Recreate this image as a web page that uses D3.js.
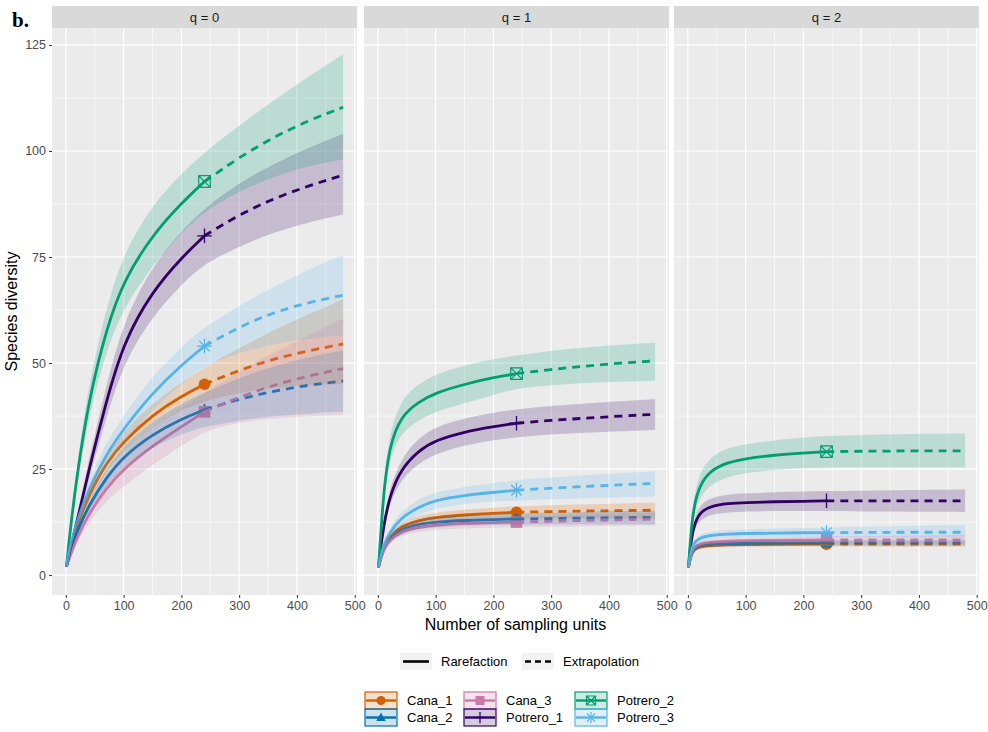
<!DOCTYPE html>
<html>
<head>
<meta charset="utf-8">
<script src="https://cdn.jsdelivr.net/npm/d3@7"></script>
<style>
body{margin:0;background:#fff}
svg{display:block;font-family:Arial,"Liberation Sans",sans-serif}
</style>
</head>
<body>
<svg id="chart" width="988" height="732"></svg>
<script>
// iNEXT style curves, 3 facets (q = 0, 1, 2)

const sites=["Cana_1","Cana_2","Cana_3","Potrero_1","Potrero_2","Potrero_3"];
const siteColors=["#D55E00","#0072B2","#CC79A7","#330066","#009E73","#56B4E9"];
const siteShapes=["circle","triangle","square","plus","squarecross","asterisk"];
const facetLabels=["q = 0","q = 1","q = 2"];
const sizes=[1,5,10,20,40,70,100,150,200,240,300,360,420,480];
const observedSize=240;
const xTicks=[0,100,200,300,400,500];
const yTicks=[0,25,50,75,100,125];

// q = 0
const meanQ0=[
  [2,4.5,7.5,12,19,26.5,31.5,37.8,42.2,45,48.3,51,52.9,54.5],
  [2,4,6.5,10.5,16.5,23,28,33.2,36.8,39,41.5,43.4,44.8,45.8],
  [2,3.5,5.5,9,14.5,20.5,25,30.5,35,38.5,42,44.8,47,48.7],
  [2,4.5,7.5,13,25,41,55,67,74.8,80,85,88.8,91.8,94.3],
  [2,7.5,13.3,24.3,41.5,58,69.5,80.2,87.7,92.8,98.5,103.3,107.2,110.3],
  [2,5,8,13,20.5,28.5,34.5,43,49.5,54,58.5,62,64.3,66]
];
const lowQ0=[
  [1.7,4,6.8,11,17.5,24.5,29.2,35,39,41,43,44.2,44.8,45],
  [1.7,3.5,5.8,9.5,15,21,25.5,30.2,33.2,35,36.5,37.5,38.1,38.5],
  [1.7,3,4.8,7.8,12.5,17.5,21,26,30.5,34,36,37,37.5,37.7],
  [1.7,4,6.8,11.7,22.6,37.2,50,61,68.5,73.5,77.5,80.8,83.2,85],
  [1.7,6.6,11.8,21.8,37.5,53,63,73,80.8,85.8,90.5,94,96.5,98],
  [1.7,4.5,7.2,11.8,18.5,25.8,31.3,39,45.2,49.5,52.5,54.5,55.8,56.5]
];
const highQ0=[
  [2.3,5,8.2,13,20.5,28.5,33.8,40.6,45.4,49,53.5,57.8,61.5,65],
  [2.3,4.5,7.2,11.5,18,25,30.5,36.2,40.4,43,46.5,49.3,51.4,53],
  [2.3,4,6.2,10.2,16.5,23.5,29,35,39.5,43,48,52.5,56.5,60.5],
  [2.3,5,8.2,14.3,27.4,44.8,60,73,81.1,86.5,92.5,97,100.8,104],
  [2.3,8.4,14.8,26.8,45.5,63,76,87.4,94.6,99.8,106,112,117.5,122.8],
  [2.3,5.5,8.8,14.2,22.5,31.2,37.7,47,53.8,58.5,63.5,68,72,75.5]
];

// q = 1
const meanQ1=[
  [1.8,4,6.5,9,11.5,12.9,13.6,14.2,14.6,14.8,15,15.1,15.2,15.3],
  [1.8,4,6.2,8.6,10.8,12,12.5,12.9,13.1,13.2,13.35,13.45,13.55,13.6],
  [1.8,3.8,6,8.3,10.3,11.3,11.8,12.2,12.4,12.5,12.7,12.9,13.05,13.2],
  [1.8,6.5,11.5,18.5,25,29.3,31.8,33.8,35,35.8,36.5,37,37.5,37.9],
  [1.8,9.5,19.5,30.5,37.5,40.8,43,45,46.6,47.5,48.5,49.3,50,50.5],
  [1.8,4.5,7,10,13.5,16,17.7,18.8,19.5,20,20.5,20.9,21.3,21.6]
];
const lowQ1=[
  [1.6,3.6,5.9,8.2,10.5,11.8,12.4,13,13.3,13.4,13.4,13.4,13.35,13.3],
  [1.6,3.6,5.6,7.8,9.8,10.9,11.3,11.7,11.8,11.9,11.95,12,12,12],
  [1.6,3.4,5.4,7.5,9.3,10.2,10.7,11,11.2,11.3,11.4,11.5,11.6,11.7],
  [1.6,5.8,10.3,16.7,22.5,26.3,28.6,30.6,31.8,32.5,33.2,33.6,33.9,34.2],
  [1.6,8.5,17.5,27.5,33.5,36.5,38.6,40.5,42.5,44,44.8,45.3,45.6,45.8],
  [1.6,4,6.3,9,12,14.2,15.8,16.8,17.3,17.6,17.9,18.1,18.3,18.5]
];
const highQ1=[
  [2,4.4,7.1,9.8,12.5,14,14.8,15.4,15.9,16.2,16.5,16.7,16.9,17.1],
  [2,4.4,6.8,9.4,11.8,13.1,13.7,14.1,14.4,14.5,14.7,14.9,15.1,15.2],
  [2,4.2,6.6,9.1,11.3,12.4,12.9,13.4,13.6,13.7,14,14.3,14.5,14.7],
  [2,7.2,12.7,20.3,27.5,32.3,35,37,38.3,39.1,39.9,40.5,41,41.5],
  [2,10.5,21.5,33.5,41.5,45,47.4,49.5,50.9,51.8,52.9,53.7,54.3,54.8],
  [2,5,7.7,11,15,17.8,19.6,20.8,21.7,22.4,23,23.6,24,24.4]
];

// q = 2
const meanQ2=[
  [1.8,4.5,6,6.7,7,7.1,7.2,7.25,7.3,7.3,7.3,7.3,7.3,7.3],
  [1.8,4.6,6.2,7,7.3,7.45,7.5,7.55,7.6,7.6,7.6,7.6,7.6,7.6],
  [1.8,4.8,6.5,7.4,7.8,8,8.1,8.2,8.25,8.3,8.3,8.3,8.3,8.3],
  [1.8,7.5,11.5,14.8,16.3,16.9,17.1,17.3,17.4,17.5,17.5,17.5,17.5,17.5],
  [1.8,9.5,16,21.2,24.8,26.6,27.5,28.3,28.8,29.1,29.2,29.25,29.3,29.3],
  [1.8,5.5,7.5,8.8,9.4,9.7,9.8,9.9,10,10,10.05,10.1,10.1,10.1]
];
const lowQ2=[
  [1.6,4.1,5.5,6.2,6.5,6.6,6.7,6.7,6.75,6.75,6.7,6.7,6.7,6.7],
  [1.6,4.2,5.7,6.4,6.7,6.85,6.9,6.95,7,7,7,7,7,7],
  [1.6,4.3,5.9,6.7,7.1,7.3,7.4,7.45,7.5,7.5,7.5,7.45,7.4,7.4],
  [1.6,6.7,10.2,13,14.3,14.8,15,15.1,15.1,15.1,15,15,14.9,14.9],
  [1.6,8.3,13.8,18.3,21.5,23.2,24.1,24.8,25.2,25.4,25.4,25.4,25.4,25.4],
  [1.6,5,6.8,8,8.6,8.8,8.9,8.9,8.9,8.9,8.85,8.85,8.8,8.8]
];
const highQ2=[
  [2,4.9,6.5,7.2,7.5,7.6,7.7,7.8,7.85,7.9,7.9,7.9,7.95,8],
  [2,5,6.7,7.6,7.9,8.05,8.1,8.2,8.2,8.25,8.3,8.3,8.35,8.4],
  [2,5.3,7.1,8.1,8.5,8.7,8.8,8.95,9,9.1,9.2,9.3,9.4,9.5],
  [2,8.3,12.8,16.6,18.3,19,19.3,19.5,19.7,19.8,19.9,20,20.1,20.2],
  [2,10.7,18.2,24.1,28.1,30,30.9,31.8,32.4,32.8,33,33.2,33.3,33.4],
  [2,6,8.2,9.6,10.3,10.6,10.8,11,11.1,11.2,11.4,11.5,11.7,11.8]
];

const meanAll=[meanQ0,meanQ1,meanQ2];
const lowAll=[lowQ0,lowQ1,lowQ2];
const highAll=[highQ0,highQ1,highQ2];

const svg=d3.select("#chart");
const panelLeft=[52,364,674];
const panelW=305;
const panelTop=28, panelBottom=595;
const stripTop=6;
const font="Arial,'Liberation Sans',sans-serif";

const y=d3.scaleLinear().domain([-4.7,129]).range([panelBottom,panelTop]);

function drawShape(g,shape,color,cx,cy,s){
  const p=g.append("g").attr("transform","translate("+cx+","+cy+")");
  if(shape==="circle"){
    p.append("circle").attr("r",s).attr("fill",color);
  }else if(shape==="triangle"){
    p.append("path").attr("d","M0,"+(-s*1.1)+"L"+(s*1.05)+","+(s*0.75)+"L"+(-s*1.05)+","+(s*0.75)+"Z").attr("fill",color);
  }else if(shape==="square"){
    p.append("rect").attr("x",-s).attr("y",-s).attr("width",2*s).attr("height",2*s).attr("fill",color);
  }else if(shape==="plus"){
    const t=s*1.25;
    p.append("path").attr("d","M"+(-t)+",0H"+t+"M0,"+(-t)+"V"+t).attr("stroke",color).attr("stroke-width",1.3).attr("fill","none");
  }else if(shape==="squarecross"){
    p.append("path").attr("d","M"+(-s)+","+(-s)+"H"+s+"V"+s+"H"+(-s)+"Z M"+(-s)+","+(-s)+"L"+s+","+s+"M"+s+","+(-s)+"L"+(-s)+","+s)
      .attr("stroke",color).attr("stroke-width",1.2).attr("fill","none");
  }else if(shape==="asterisk"){
    const t=s*1.25, d=s*0.9;
    p.append("path").attr("d","M"+(-t)+",0H"+t+"M0,"+(-t)+"V"+t+"M"+(-d)+","+(-d)+"L"+d+","+d+"M"+d+","+(-d)+"L"+(-d)+","+d)
      .attr("stroke",color).attr("stroke-width",1.2).attr("fill","none");
  }
}

facetLabels.forEach((lab,fi)=>{
  const x0=panelLeft[fi];
  const x=d3.scaleLinear().domain([-24,504]).range([x0,x0+panelW]);
  const g=svg.append("g");

  // strip
  g.append("rect").attr("x",x0).attr("y",stripTop).attr("width",panelW).attr("height",panelTop-stripTop).attr("fill","#D9D9D9");
  g.append("text").attr("x",x0+panelW/2).attr("y",(stripTop+panelTop)/2+4.5).attr("text-anchor","middle")
    .attr("font-size",13).attr("fill","#1A1A1A").text(lab);

  // panel background + grid
  g.append("rect").attr("x",x0).attr("y",panelTop).attr("width",panelW).attr("height",panelBottom-panelTop).attr("fill","#EBEBEB");
  const xMinor=[50,150,250,350,450];
  const yMinor=[12.5,37.5,62.5,87.5,112.5];
  g.selectAll(".xm").data(xMinor).enter().append("line")
    .attr("x1",d=>x(d)).attr("x2",d=>x(d)).attr("y1",panelTop).attr("y2",panelBottom)
    .attr("stroke","#fff").attr("stroke-width",0.6);
  g.selectAll(".ym").data(yMinor).enter().append("line")
    .attr("x1",x0).attr("x2",x0+panelW).attr("y1",d=>y(d)).attr("y2",d=>y(d))
    .attr("stroke","#fff").attr("stroke-width",0.6);
  g.selectAll(".xg").data(xTicks).enter().append("line")
    .attr("x1",d=>x(d)).attr("x2",d=>x(d)).attr("y1",panelTop).attr("y2",panelBottom)
    .attr("stroke","#fff").attr("stroke-width",1.2);
  g.selectAll(".yg").data(yTicks).enter().append("line")
    .attr("x1",x0).attr("x2",x0+panelW).attr("y1",d=>y(d)).attr("y2",d=>y(d))
    .attr("stroke","#fff").attr("stroke-width",1.2);

  // x axis
  const xa=g.append("g").attr("transform","translate(0,"+panelBottom+")")
    .call(d3.axisBottom(x).tickValues(xTicks).tickSize(3).tickPadding(3).tickFormat(d3.format("d")));
  xa.select(".domain").remove();
  xa.selectAll("line").attr("stroke","#333");
  xa.selectAll("text").attr("font-size",12.5).attr("fill","#4D4D4D").attr("font-family",font);

  if(fi===0){
    const ya=g.append("g").attr("transform","translate("+x0+",0)")
      .call(d3.axisLeft(y).tickValues(yTicks).tickSize(3).tickPadding(3));
    ya.select(".domain").remove();
    ya.selectAll("line").attr("stroke","#333");
    ya.selectAll("text").attr("font-size",12.5).attr("fill","#4D4D4D").attr("font-family",font);
  }

  const means=meanAll[fi], lows=lowAll[fi], highs=highAll[fi];
  const obsIdx=sizes.indexOf(observedSize);

  // points
  sites.forEach((s,si)=>{
    drawShape(g,siteShapes[si],siteColors[si],x(observedSize),y(means[si][obsIdx]),5.8);
  });

  // lines
  const line=d3.line().x(d=>x(d[0])).y(d=>y(d[1])).curve(d3.curveBasis);
  sites.forEach((s,si)=>{
    const pts=sizes.map((v,i)=>[v,means[si][i]]);
    g.append("path").attr("d",line(pts.filter(p=>p[0]<=observedSize)))
      .attr("fill","none").attr("stroke",siteColors[si]).attr("stroke-width",2.8);
    g.append("path").attr("d",line(pts.filter(p=>p[0]>=observedSize)))
      .attr("fill","none").attr("stroke",siteColors[si]).attr("stroke-width",2.8).attr("stroke-dasharray","8,6");
  });

  // ribbons on top (alpha)
  const area=d3.area().x(d=>x(d[0])).y0(d=>y(d[1])).y1(d=>y(d[2])).curve(d3.curveBasis);
  sites.forEach((s,si)=>{
    const pts=sizes.map((v,i)=>[v,lows[si][i],highs[si][i]]);
    g.append("path").attr("d",area(pts)).attr("fill",siteColors[si]).attr("fill-opacity",0.2);
  });
});

// axis titles
svg.append("text").attr("x",(panelLeft[0]+panelLeft[2]+panelW)/2).attr("y",630).attr("text-anchor","middle")
  .attr("font-size",16).attr("fill","#000").text("Number of sampling units");
svg.append("text").attr("transform","translate(17,"+((panelTop+panelBottom)/2)+") rotate(-90)").attr("text-anchor","middle")
  .attr("font-size",16).attr("fill","#000").text("Species diversity");

// panel tag
svg.append("text").attr("x",12).attr("y",27).attr("font-family","'Liberation Serif','DejaVu Serif',serif")
  .attr("font-weight","bold").attr("font-size",21).attr("fill","#000").text("b.");

// legend: line type
const lineLegend=[{label:"Rarefaction",dash:null,x:400},{label:"Extrapolation",dash:"6,4",x:522}];
lineLegend.forEach(d=>{
  svg.append("rect").attr("x",d.x).attr("y",653).attr("width",32).attr("height",17).attr("fill","#F2F2F2");
  svg.append("line").attr("x1",d.x+3).attr("x2",d.x+29).attr("y1",661.5).attr("y2",661.5)
    .attr("stroke","#000").attr("stroke-width",2.6).attr("stroke-dasharray",d.dash);
  svg.append("text").attr("x",d.x+41).attr("y",666).attr("font-size",13).attr("fill","#000").text(d.label);
});

// legend: sites
const legCols=[365,464,575];
const legRows=[692,709];
sites.forEach((s,si)=>{
  const cx=legCols[Math.floor(si/2)], cy=legRows[si%2];
  const c=siteColors[si];
  svg.append("rect").attr("x",cx).attr("y",cy).attr("width",32).attr("height",17)
    .attr("fill",c).attr("fill-opacity",0.2).attr("stroke",c).attr("stroke-width",1.2);
  svg.append("line").attr("x1",cx+1).attr("x2",cx+31).attr("y1",cy+8.5).attr("y2",cy+8.5).attr("stroke",c).attr("stroke-width",2.4);
  drawShape(svg,siteShapes[si],c,cx+16,cy+8.5,4.5);
  svg.append("text").attr("x",cx+42).attr("y",cy+13).attr("font-size",13).attr("fill","#000").text(s);
});
</script>
</body>
</html>
